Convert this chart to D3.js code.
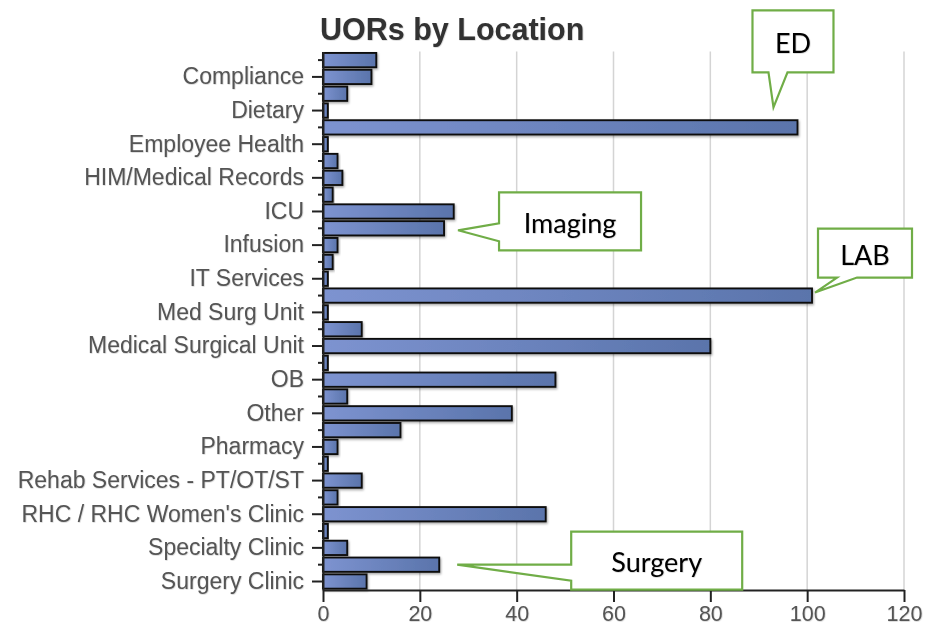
<!DOCTYPE html>
<html>
<head>
<meta charset="utf-8">
<script src="https://cdn.jsdelivr.net/npm/d3@7"></script>
<style>
    html, body { margin: 0; padding: 0; background: #fff; }
    svg text { font-family: "Liberation Sans", Arial, sans-serif; }
</style>
</head>
<body>
<div id="chart"></div>
<script>
// Locations (alphabetical, only every other one gets a visible label)
const locations = [
    'Administration', 'Compliance', 'Dialysis', 'Dietary', 'ED',
    'Employee Health', 'Environmental Services', 'HIM/Medical Records', 'Home Health', 'ICU',
    'Imaging', 'Infusion', 'Inpatient Rehab', 'IT Services', 'LAB',
    'Med Surg Unit', 'Medical Staff', 'Medical Surgical Unit', 'Nursing Administration', 'OB',
    'Orthopedics', 'Other', 'Outpatient Services', 'Pharmacy', 'Quality',
    'Rehab Services - PT/OT/ST', 'Respiratory Therapy', "RHC / RHC Women's Clinic", 'Security', 'Specialty Clinic',
    'Surgery', 'Surgery Clinic'
];
const uor_counts = [
    11, 10, 5, 1, 98,
    1, 3, 4, 2, 27,
    25, 3, 2, 1, 101,
    1, 8, 80, 1, 48,
    5, 39, 16, 3, 1,
    8, 3, 46, 1, 5,
    24, 9
];
const x_ticks = [0, 20, 40, 60, 80, 100, 120];

// Callout annotations
const callout_labels = ['ED', 'Imaging', 'LAB', 'Surgery'];

const data = locations.map((name, i) => ({ name: name, value: uor_counts[i], idx: i }));

const width = 925, height = 634;
const margin = { top: 51.6, right: 21, bottom: 44, left: 323 };

const svg = d3.select('#chart').append('svg')
    .attr('width', width)
    .attr('height', height);

const defs = svg.append('defs');
const grad = defs.append('linearGradient')
    .attr('id', 'bar-grad')
    .attr('x1', '0%').attr('x2', '100%')
    .attr('y1', '0%').attr('y2', '0%');
grad.append('stop').attr('offset', '0%').attr('stop-color', '#7d93d0');
grad.append('stop').attr('offset', '100%').attr('stop-color', '#5a74ab');

const shadow = defs.append('filter').attr('id', 'bar-shadow')
    .attr('x', '-10%').attr('y', '-30%').attr('width', '130%').attr('height', '180%');
shadow.append('feDropShadow')
    .attr('dx', 1).attr('dy', 1.5).attr('stdDeviation', 0.8)
    .attr('flood-color', '#000').attr('flood-opacity', 0.35);

const txt_shadow = defs.append('filter').attr('id', 'txt-shadow');
txt_shadow.append('feDropShadow')
    .attr('dx', 0.5).attr('dy', 0.5).attr('stdDeviation', 0.6)
    .attr('flood-color', '#000').attr('flood-opacity', 0.25);

const inner_width = width - margin.left - margin.right;
const inner_height = height - margin.top - margin.bottom;

const xscale = d3.scaleLinear()
    .domain([0, 120])
    .range([0, 581]);

const yscale = d3.scaleBand()
    .domain(locations)
    .range([0, inner_height])
    .paddingInner(0.15)
    .paddingOuter(0.08);

const chart = svg.append('g')
    .attr('transform', `translate(${margin.left}, ${margin.top})`);

// title
svg.append('text')
    .attr('x', 320)
    .attr('y', 40)
    .attr('fill', '#333')
    .style('font-size', '30.5px')
    .style('font-weight', 'bold')
    .attr('filter', 'url(#txt-shadow)')
    .text('UORs by Location');

// vertical gridlines
chart.append('g')
    .selectAll('line')
    .data(x_ticks.slice(1))
    .join('line')
    .attr('x1', d => xscale(d))
    .attr('x2', d => xscale(d))
    .attr('y1', 0)
    .attr('y2', inner_height)
    .attr('stroke', '#d4d4d4')
    .attr('stroke-width', 1.5);

// bars
chart.append('g')
    .selectAll('rect')
    .data(data)
    .join('rect')
    .attr('x', 0)
    .attr('y', d => yscale(d.name))
    .attr('width', d => xscale(d.value))
    .attr('height', yscale.bandwidth())
    .attr('fill', 'url(#bar-grad)')
    .attr('stroke', '#111')
    .attr('stroke-width', 1.9)
    .attr('filter', 'url(#bar-shadow)');

// x axis
const xaxis_group = chart.append('g')
    .attr('transform', `translate(0, ${inner_height})`)
    .call(d3.axisBottom(xscale).tickValues(x_ticks).tickSize(12).tickPadding(4).tickSizeOuter(0));
xaxis_group.select('.domain').attr('stroke', '#222').attr('stroke-width', 2);
xaxis_group.selectAll('.tick line').attr('stroke', '#222').attr('stroke-width', 2);
xaxis_group.selectAll('.tick text')
    .attr('fill', '#555')
    .style('font-size', '21.5px')
    .style('font-family', '"Liberation Sans", Arial, sans-serif')
    .attr('filter', 'url(#txt-shadow)');

// y axis (labels only every other category)
const yaxis_group = chart.append('g')
    .call(d3.axisLeft(yscale).tickSize(11).tickPadding(8).tickSizeOuter(0)
        .tickFormat((d, i) => i % 2 === 1 ? d : ''));
yaxis_group.select('.domain').attr('stroke', '#222').attr('stroke-width', 2);
yaxis_group.selectAll('.tick line')
    .attr('stroke', '#222')
    .attr('stroke-width', 2)
    .attr('x2', (d, i) => i % 2 === 1 ? -11 : -5);
yaxis_group.selectAll('.tick text')
    .attr('fill', '#555')
    .style('font-size', '23px')
    .style('font-family', '"Liberation Sans", Arial, sans-serif')
    .attr('filter', 'url(#txt-shadow)');

// callouts: tip offset from bar end, box relative to tip, pointer base on a box side
const callout_layout = [
    { dx: -24, dy: -20, box: [-21, -97, 81, 62], side: 'bottom', base: [-5, 14] },
    { dx: 14, dy: 2, box: [41, -38, 142, 58], side: 'left', base: [-7, 11] },
    { dx: 3, dy: -3, box: [3, -64, 94, 49], side: 'bottom', base: [22, 42] },
    { dx: 18, dy: 0, box: [114, -33, 171, 58], side: 'left', base: [0, 16] }
];

const callouts = callout_labels.map((label, i) => {
    const d = data.find(e => e.name === label);
    const lay = callout_layout[i];
    const tx = margin.left + xscale(d.value) + lay.dx;
    const ty = margin.top + yscale(d.name) + yscale.bandwidth() / 2 + lay.dy;
    return { label: label, tx: tx, ty: ty, lay: lay };
});

function callout_path(c) {
    const [bx, by, bw, bh] = c.lay.box;
    const x0 = c.tx + bx, y0 = c.ty + by, x1 = x0 + bw, y1 = y0 + bh;
    const p = d3.path();
    if (c.lay.side === 'bottom') {
        p.moveTo(x0, y0);
        p.lineTo(x1, y0);
        p.lineTo(x1, y1);
        p.lineTo(c.tx + c.lay.base[1], y1);
        p.lineTo(c.tx, c.ty);
        p.lineTo(c.tx + c.lay.base[0], y1);
        p.lineTo(x0, y1);
    } else {
        p.moveTo(x0, y0);
        p.lineTo(x1, y0);
        p.lineTo(x1, y1);
        p.lineTo(x0, y1);
        p.lineTo(x0, c.ty + c.lay.base[1]);
        p.lineTo(c.tx, c.ty);
        p.lineTo(x0, c.ty + c.lay.base[0]);
    }
    p.closePath();
    return p.toString();
}

const callout_g = svg.append('g')
    .selectAll('g')
    .data(callouts)
    .join('g');

callout_g.append('path')
    .attr('d', d => callout_path(d))
    .attr('fill', '#fff')
    .attr('stroke', '#70ad47')
    .attr('stroke-width', 2.2)
    .attr('stroke-linejoin', 'miter');

callout_g.append('text')
    .attr('x', d => d.tx + d.lay.box[0] + d.lay.box[2] / 2)
    .attr('y', d => d.ty + d.lay.box[1] + d.lay.box[3] / 2 + 1)
    .attr('text-anchor', 'middle')
    .attr('dominant-baseline', 'central')
    .attr('fill', '#000')
    .style('font-family', 'Lato, "Open Sans", sans-serif')
    .style('font-size', '27px')
    .attr('filter', 'url(#txt-shadow)')
    .text(d => d.label);
</script>
</body>
</html>
